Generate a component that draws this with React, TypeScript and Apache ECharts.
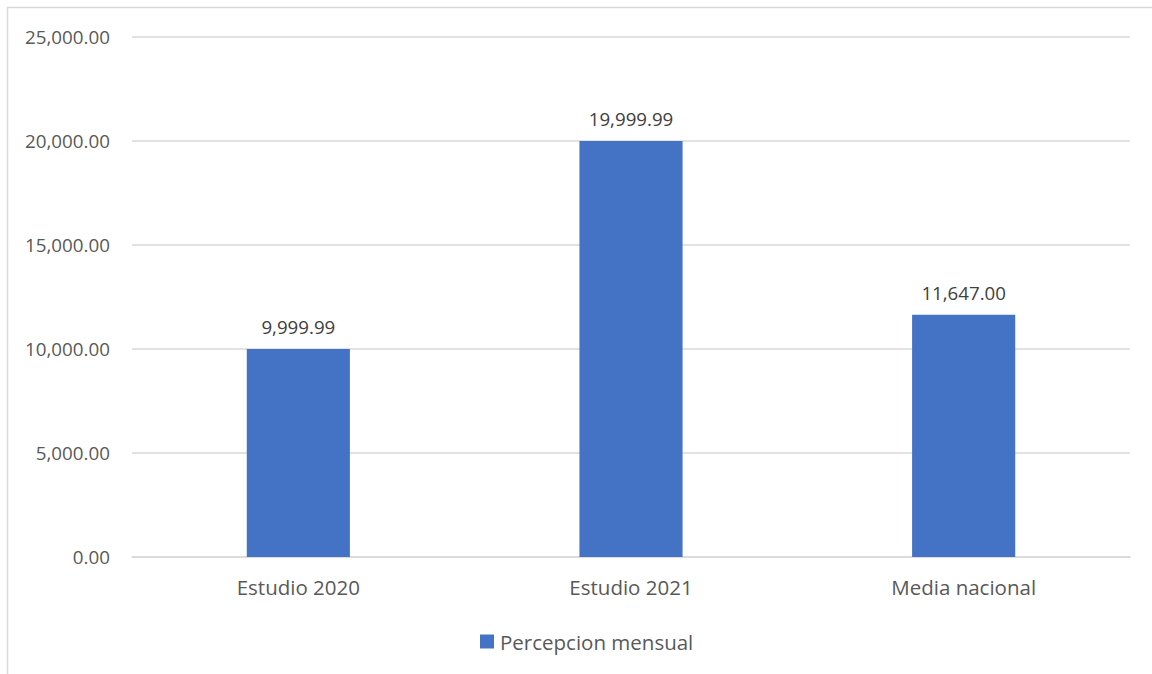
import React, { useEffect, useRef } from "react";
import * as echarts from "echarts";

const categories = ["Estudio 2020", "Estudio 2021", "Media nacional"];
const values = [9999.99, 19999.99, 11647.0];
const seriesName = "Percepcion mensual";

const fmt = (v: number) =>
  v.toLocaleString("en-US", { minimumFractionDigits: 2, maximumFractionDigits: 2 });

export default function App() {
  const ref = useRef<HTMLDivElement>(null);
  useEffect(() => {
    if (!ref.current) return;
    const chart = echarts.init(ref.current, null, { renderer: "svg" });
    const font = "'Open Sans', 'Noto Sans', sans-serif";
    chart.setOption({
      animation: false,
      textStyle: { fontFamily: font },
      graphic: [
        {
          type: "rect",
          shape: { x: 7.5, y: 7.5, width: 1200, height: 700 },
          style: { fill: "none", stroke: "#d9d9d9", lineWidth: 1.5 },
          silent: true,
        },
      ],
      grid: { left: 132, right: 22, top: 37, bottom: 117, containLabel: false },
      legend: {
        top: 626,
        left: 475,
        itemWidth: 14,
        itemHeight: 14,
        icon: "rect",
        itemGap: 6,
        textStyle: { fontSize: 20.5, color: "#595959", fontFamily: font, padding: [0, 0, 0, 1] },
        data: [seriesName],
      },
      xAxis: {
        type: "category",
        data: categories,
        axisTick: { show: false },
        axisLine: { lineStyle: { color: "#d9d9d9", width: 1.5 } },
        axisLabel: { fontSize: 20.5, color: "#595959", margin: 19, fontFamily: font },
      },
      yAxis: {
        type: "value",
        min: 0,
        max: 25000,
        interval: 5000,
        axisLine: { show: false },
        axisTick: { show: false },
        splitLine: { lineStyle: { color: "#d9d9d9", width: 1.5 } },
        axisLabel: {
          fontSize: 18.8,
          color: "#595959",
          margin: 22,
          fontFamily: font,
          formatter: (v: number) => fmt(v),
        },
      },
      series: [
        {
          name: seriesName,
          type: "bar",
          data: values,
          barWidth: "31%",
          itemStyle: { color: "#4472C4" },
          label: {
            show: true,
            position: "top",
            distance: 13,
            fontSize: 18.7,
            color: "#404040",
            fontFamily: font,
            formatter: (p: any) => fmt(p.value),
          },
        },
      ],
    });
    return () => chart.dispose();
  }, []);
  return (
    <div
      ref={ref}
      style={{ position: "fixed", left: 0, top: 0, width: 1152, height: 674, background: "#fff" }}
    />
  );
}
